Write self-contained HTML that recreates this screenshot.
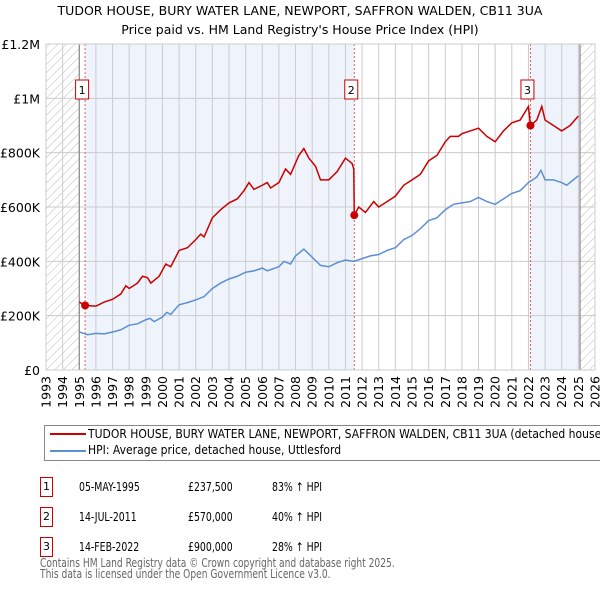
<!DOCTYPE html>
<html><head><meta charset="utf-8"><style>
body{margin:0;background:#fff;font-family:"DejaVu Sans","Liberation Sans",sans-serif;}
#wrap{position:relative;width:600px;height:590px;overflow:hidden;}
.t{position:absolute;white-space:nowrap;color:#000;}
.c{transform-origin:0 0;transform:scaleX(0.78);}
.lg{transform-origin:0 0;transform:scaleX(0.9);}
.ft{transform-origin:0 0;transform:scaleX(0.76);}
</style></head><body><div id="wrap">
<div class="t" style="left:0;width:600px;text-align:center;top:1px;font-size:12.5px;line-height:19px">TUDOR HOUSE, BURY WATER LANE, NEWPORT, SAFFRON WALDEN, CB11 3UA<br>Price paid vs. HM Land Registry's House Price Index (HPI)</div>
<svg id="chart" width="600" height="420" style="position:absolute;left:0;top:0"></svg>
<div style="position:absolute;left:44px;top:425px;width:570px;height:36px;border:1px solid #888;box-sizing:border-box"></div>
<div style="position:absolute;left:50px;top:433px;width:36px;height:2px;background:#cc0000"></div>
<div class="t lg" style="left:88px;top:427px;font-size:12px">TUDOR HOUSE, BURY WATER LANE, NEWPORT, SAFFRON WALDEN, CB11 3UA (detached house)</div>
<div style="position:absolute;left:50px;top:450px;width:36px;height:2px;background:#5b8fd4"></div>
<div class="t lg" style="left:88px;top:443px;font-size:12px">HPI: Average price, detached house, Uttlesford</div>
<div id="rows"></div>
<div class="t ft" style="left:40px;top:558px;font-size:12px;line-height:10.5px;color:#666">Contains HM Land Registry data © Crown copyright and database right 2025.<br>This data is licensed under the Open Government Licence v3.0.</div>
</div>
<script>
const hpiYears=[1995,1995.5,1996,1996.5,1997,1997.5,1998,1998.5,1999,1999.25,1999.5,2000,2000.25,2000.5,2001,2001.5,2002,2002.5,2003,2003.5,2004,2004.5,2005,2005.5,2006,2006.3,2007,2007.3,2007.7,2008,2008.5,2009,2009.5,2010,2010.5,2011,2011.5,2012,2012.5,2013,2013.5,2014,2014.5,2015,2015.5,2016,2016.5,2017,2017.5,2018,2018.5,2019,2019.5,2020,2020.5,2021,2021.5,2022,2022.5,2022.75,2023,2023.5,2024,2024.3,2024.7,2025];
const hpiValues=[140,130,135,133,140,148,165,170,185,190,178,195,212,205,240,248,258,270,300,320,335,345,360,365,375,365,380,400,390,420,445,415,385,380,395,405,400,410,420,425,440,450,480,495,520,550,560,590,610,615,620,635,620,610,630,650,660,690,710,735,700,700,690,680,700,715];
const priceYears=[1995,1995.35,1996,1996.5,1997,1997.5,1997.8,1998,1998.5,1998.8,1999.1,1999.3,1999.8,2000.2,2000.5,2001,2001.5,2002,2002.3,2002.5,2003,2003.5,2004,2004.5,2004.9,2005.2,2005.5,2006,2006.3,2006.5,2007,2007.4,2007.7,2008.2,2008.5,2008.8,2009.2,2009.5,2010,2010.5,2011,2011.4,2011.5,2011.53,2011.8,2012.2,2012.7,2013,2013.5,2014,2014.5,2015,2015.5,2016,2016.5,2017,2017.3,2017.8,2018,2018.5,2019,2019.5,2020,2020.5,2021,2021.5,2022,2022.12,2022.5,2022.8,2023,2023.5,2024,2024.5,2025];
const priceValues=[250,237.5,235,250,260,280,310,300,320,345,340,320,345,390,380,440,450,480,500,490,560,590,615,630,660,690,665,680,690,670,690,740,720,790,815,780,750,700,700,730,780,760,740,570,600,580,620,600,620,640,680,700,720,770,790,840,860,860,870,880,890,860,840,880,910,920,970,900,920,970,920,900,880,900,935];
const saleYears=[1995.35,2011.53,2022.12];
const saleValues=[237.5,570,900];
const saleLabels=["1","2","3"];
const saleDates=["05-MAY-1995","14-JUL-2011","14-FEB-2022"];
const salePrices=["£237,500","£570,000","£900,000"];
const saleHpi=["83% ↑ HPI","40% ↑ HPI","28% ↑ HPI"];
const yTicks=[0,200,400,600,800,1000,1200];
const yTickLabels=["£0","£200K","£400K","£600K","£800K","£1M","£1.2M"];

const X0=46,X1=595,Y0=370,Y1=44;
const x=y=>X0+(y-1993)/33*(X1-X0);
const yv=v=>Y0-v/1200*(Y0-Y1);
const NS="http://www.w3.org/2000/svg";
const svg=document.getElementById('chart');
function mk(tag,attrs,parent){const e=document.createElementNS(NS,tag);for(const k in attrs)e.setAttribute(k,attrs[k]);(parent||svg).appendChild(e);return e;}
const defs=mk('defs',{});
const pat=mk('pattern',{id:'hatch',width:6,height:6,patternUnits:'userSpaceOnUse',patternTransform:'rotate(45)'},defs);
mk('line',{x1:0,y1:0,x2:0,y2:6,stroke:'#bbb','stroke-width':1},pat);
let r;
r=mk('rect',{x:x(1995.35),y:Y1,width:x(2011.53)-x(1995.35),height:Y0-Y1,fill:'#eef3fc'});

r=mk('rect',{x:x(2022.12),y:Y1,width:x(2025.1)-x(2022.12),height:Y0-Y1,fill:'#eef3fc'});

r=mk('rect',{x:X0,y:Y1,width:x(1995)-X0,height:Y0-Y1,fill:'url(#hatch)'});

r=mk('rect',{x:x(2025.1),y:Y1,width:X1-x(2025.1),height:Y0-Y1,fill:'url(#hatch)'});

for(let yr=1993;yr<=2026;yr++){
 const l=mk('line',{x1:x(yr),x2:x(yr),y1:Y1,y2:Y0,stroke:'#ccc','stroke-width':1});
 
 const t=mk('text',{x:x(yr)+4.5,y:Y0+6,'font-size':12.5,'text-anchor':'end',transform:`rotate(-90 ${x(yr)+4.5} ${Y0+6})`,'font-family':'DejaVu Sans, sans-serif'});
 t.textContent=yr;
}
yTicks.forEach((v,i)=>{
 const l=mk('line',{x1:X0,x2:X1,y1:yv(v),y2:yv(v),stroke:'#ccc','stroke-width':1});
 
 const t=mk('text',{x:40,y:yv(v)+5,'font-size':12.5,'text-anchor':'end','font-family':'DejaVu Sans, sans-serif'});
 t.textContent=yTickLabels[i];
});
let b=mk('line',{x1:x(1995),x2:x(1995),y1:Y1,y2:Y0,stroke:'#888','stroke-width':1.2});

b=mk('line',{x1:x(2025.1),x2:x(2025.1),y1:Y1,y2:Y0,stroke:'#888','stroke-width':1.2});

saleYears.forEach((s,i)=>{
 const l=mk('line',{x1:x(s),x2:x(s),y1:Y1,y2:Y0,stroke:'#e06060','stroke-width':1,'stroke-dasharray':'2,2'});
 
});
let p=mk('polyline',{points:hpiYears.map((y,i)=>x(y)+','+yv(hpiValues[i])).join(' '),fill:'none',stroke:'#5b8fd4','stroke-width':1.5});

p=mk('polyline',{points:priceYears.map((y,i)=>x(y)+','+yv(priceValues[i])).join(' '),fill:'none',stroke:'#cc0000','stroke-width':1.5});

saleYears.forEach((s,i)=>{
 const c=mk('circle',{cx:x(s),cy:yv(saleValues[i]),r:4,fill:'#cc0000'});
 
 const bx=x(s)-3;
 const rr=mk('rect',{x:bx-6.5,y:80,width:13,height:19,fill:'#fff',stroke:'#cc0000','stroke-width':1});
 
 const t=mk('text',{x:bx,y:94,'font-size':11,'text-anchor':'middle','font-family':'DejaVu Sans, sans-serif'});
 t.textContent=saleLabels[i];
});
let ax=mk('rect',{x:X0,y:Y1,width:X1-X0,height:Y0-Y1,fill:'none',stroke:'#ccc','stroke-width':1});

const rows=document.getElementById('rows');
const tops=[477,507,537];
saleLabels.forEach((lb,i)=>{
 const row=document.createElement('div');
 
 
 row.style.cssText=`position:absolute;left:0;top:${tops[i]}px;width:600px;height:20px;font-size:12px;`;
 row.innerHTML=`<div style="position:absolute;left:40px;top:0;width:11px;height:18px;border:1px solid #cc0000;text-align:center;line-height:18px;font-size:11px">${lb}</div>
 <div class="t c" style="left:79px;top:3px">${saleDates[i]}</div>
 <div class="t c" style="left:188px;top:3px">${salePrices[i]}</div>
 <div class="t c" style="left:272px;top:3px">${saleHpi[i]}</div>`;
 rows.appendChild(row);
});
</script></body></html>
